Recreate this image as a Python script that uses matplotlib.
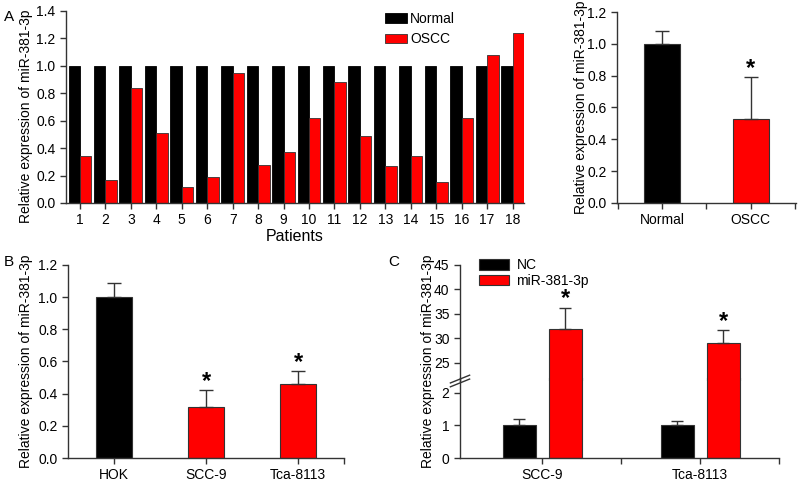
import matplotlib
matplotlib.use("Agg")
import matplotlib.pyplot as plt
import numpy as np

plt.rcParams['font.family'] = ['Liberation Sans', 'DejaVu Sans']
plt.rcParams['font.size'] = 10

# panel A (left): per patient
patients = [str(i) for i in range(1, 19)]
normal_pat = [1.0] * 18
oscc_pat = [0.34, 0.17, 0.84, 0.51, 0.12, 0.19, 0.95, 0.28, 0.37,
            0.62, 0.88, 0.49, 0.27, 0.34, 0.15, 0.62, 1.08, 1.24]

# panel A (right): mean
a2_cats = ["Normal", "OSCC"]
a2_vals = [1.0, 0.53]
a2_err = [0.08, 0.26]

# panel B: cell lines
b_cats = ["HOK", "SCC-9", "Tca-8113"]
b_vals = [1.0, 0.32, 0.46]
b_err = [0.09, 0.10, 0.08]

# panel C: transfection
c_cats = ["SCC-9", "Tca-8113"]
c_nc = [1.0, 1.0]
c_nc_err = [0.2, 0.14]
c_mir = [32.0, 29.0]
c_mir_err = [4.3, 2.8]

RED = "#ff0000"
ylab = "Relative expression of miR-381-3p"
ekw = dict(ecolor='#333333', elinewidth=1, capthick=1)


def style(ax):
    ax.spines['top'].set_visible(False)
    ax.spines['right'].set_visible(False)
    for s in ('left', 'bottom'):
        ax.spines[s].set_color('#333333')
        ax.spines[s].set_linewidth(1.0)
    ax.tick_params(direction='out', length=4, width=1, color='#333333', labelsize=10)
    ax.tick_params(which='minor', direction='out', length=4, width=1, color='#333333')


def star(ax, xpos, top):
    ax.annotate("*", xy=(xpos, top), xytext=(0, 1.5), textcoords='offset points',
                ha='center', va='baseline', fontsize=17, fontweight='bold')


fig = plt.figure(figsize=(8, 4.84), dpi=100)

# ---- A left
ax1 = fig.add_axes([0.0825, 0.5806, 0.5725, 0.3967])
x = np.arange(1, 19)
w = 0.45
ax1.bar(x - w / 2, normal_pat, w, color='black', edgecolor='black', linewidth=0.6, label='Normal')
ax1.bar(x + w / 2, oscc_pat, w, color=RED, edgecolor='#333333', linewidth=0.6, label='OSCC')
ax1.set_xlim(0.45, 18.45)
ax1.set_ylim(0, 1.4)
ax1.set_yticks(np.arange(0, 1.41, 0.2))
ax1.set_yticklabels([f"{v:.1f}" for v in np.arange(0, 1.41, 0.2)])
ax1.set_xticks(x)
ax1.set_xticklabels(patients)
ax1.set_xlabel("Patients", fontsize=11.5, labelpad=1)
ax1.set_ylabel(ylab, fontsize=10)
ax1.yaxis.set_label_coords(-0.072, 0.45)
style(ax1)
ax1.legend(loc='upper left', bbox_to_anchor=(0.669, 1.06), frameon=False, fontsize=10,
           handlelength=1.6, handleheight=0.65, handletextpad=0.2, labelspacing=0.45)

# ---- A right
ax2 = fig.add_axes([0.771, 0.5806, 0.224, 0.3946])
xa = np.arange(2)
ax2.bar(xa, a2_vals, 0.41, color=['black', RED], edgecolor='#333333', linewidth=0.8,
        yerr=[[0, 0], a2_err], capsize=5, error_kw=ekw)
star(ax2, 1, a2_vals[1] + a2_err[1])
ax2.set_xlim(-0.51, 1.51)
ax2.set_ylim(0, 1.2)
ax2.set_yticks(np.arange(0, 1.21, 0.2))
ax2.set_yticklabels([f"{v:.1f}" for v in np.arange(0, 1.21, 0.2)])
ax2.set_xticks(xa)
ax2.set_xticklabels(a2_cats)
ax2.set_xticks([-0.5, 0.5, 1.5], minor=True)
ax2.set_ylabel(ylab, fontsize=10)
ax2.yaxis.set_label_coords(-0.162, 0.5)
style(ax2)

# ---- B
ax3 = fig.add_axes([0.085, 0.0537, 0.345, 0.3988])
xb = np.arange(3)
ax3.bar(xb, b_vals, 0.40, color=['black', RED, RED], edgecolor='#333333', linewidth=0.8,
        yerr=[[0, 0, 0], b_err], capsize=5, error_kw=ekw)
for i in (1, 2):
    star(ax3, i, b_vals[i] + b_err[i])
ax3.set_xlim(-0.5, 2.5)
ax3.set_ylim(0, 1.2)
ax3.set_yticks(np.arange(0, 1.21, 0.2))
ax3.set_yticklabels([f"{v:.1f}" for v in np.arange(0, 1.21, 0.2)])
ax3.set_xticks(xb)
ax3.set_xticklabels(b_cats)
ax3.set_xticks([2.5], minor=True)
ax3.set_ylabel(ylab, fontsize=10)
ax3.yaxis.set_label_coords(-0.127, 0.5)
style(ax3)

# ---- C (broken axis)
axl = fig.add_axes([0.575, 0.0537, 0.399, 0.165])
axu = fig.add_axes([0.575, 0.2128, 0.399, 0.2397])
xc = np.arange(2)
off, wc = 0.146, 0.21
for ax in (axl, axu):
    ax.bar(xc - off, c_nc, wc, color='black', edgecolor='#333333', linewidth=0.8,
           yerr=[[0, 0], c_nc_err], capsize=4, error_kw=ekw, label='NC')
    ax.bar(xc + off, c_mir, wc, color=RED, edgecolor='#333333', linewidth=0.8,
           yerr=[[0, 0], c_mir_err], capsize=4, error_kw=ekw, label='miR-381-3p')
    ax.set_xlim(-0.52, 1.5)
    style(ax)
    ax.patch.set_visible(False)

axl.set_ylim(0, 2.45)
axl.set_yticks([0, 1, 2])
axl.set_xticks(xc)
axl.set_xticklabels(c_cats)
axl.set_xticks([0.5, 1.5], minor=True)

axu.set_ylim(21.3, 45)
axu.set_yticks([25, 30, 35, 40, 45])
axu.spines['bottom'].set_visible(False)
axu.tick_params(axis='x', which='both', bottom=False, labelbottom=False)
for i in range(2):
    star(axu, xc[i] + off, c_mir[i] + c_mir_err[i])

# break marks on the left spine
d = 0.012
for dy in (-0.004, 0.004):
    fig.add_artist(plt.Line2D([0.575 - d, 0.575 + d], [0.2128 + dy - 0.008, 0.2128 + dy + 0.008],
                              color='#333333', lw=1))

axu.legend(loc='upper left', bbox_to_anchor=(0.02, 1.165), frameon=False, fontsize=10,
           handlelength=2.2, handleheight=0.75, handletextpad=0.5, labelspacing=0.1)
fig.text(0.535, 0.254, ylab, rotation=90, ha='center', va='center', fontsize=10)

# panel letters
fig.text(0.005, 0.965, "A", fontsize=11, va='center')
fig.text(0.005, 0.458, "B", fontsize=11, va='center')
fig.text(0.485, 0.458, "C", fontsize=11, va='center')

fig.savefig("out.png", dpi=100)
